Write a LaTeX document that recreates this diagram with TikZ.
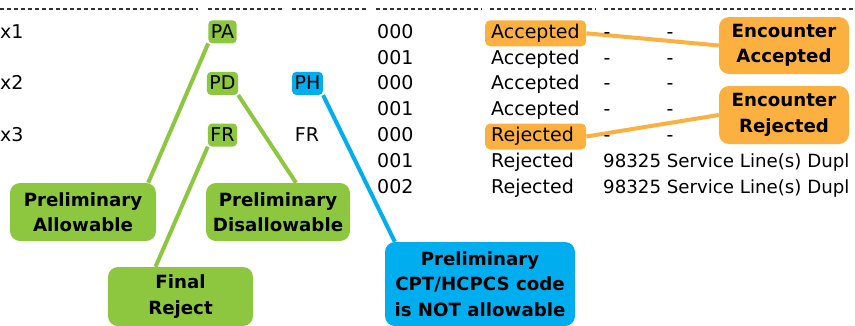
\documentclass[tikz,border=0pt]{standalone}
\usepackage{fontspec}
\setmainfont{DejaVu Sans}
\usetikzlibrary{calc,backgrounds}
\definecolor{cgreen}{HTML}{8DC63F}
\definecolor{cblue}{HTML}{00AEEF}
\definecolor{corange}{HTML}{FBB040}
\definecolor{cline}{HTML}{333333}
\begin{document}
\begin{tikzpicture}[x=1pt,y=-1pt,
  txt/.style={inner sep=0pt, font=\fontsize{19}{22}\selectfont},
  cell/.style={txt, anchor=base west},
  msgcell/.style={anchor=base west, inner sep=0pt, font=\fontsize{18.2}{22}\selectfont},
  dashcell/.style={txt, anchor=base},
  tag/.style={anchor=base, font=\fontsize{19}{22}\selectfont, text height=15.5pt, text depth=2.5pt, inner xsep=2.5pt, inner ysep=2.5pt, rounded corners=4pt},
  status/.style={anchor=base west, font=\fontsize{19}{22}\selectfont, text width=89pt, align=left, inner xsep=6pt, inner ysep=2.5pt, text height=15.5pt, text depth=5.5pt, rounded corners=5pt},
  callout/.style={rounded corners=10pt, align=center, font=\bfseries\fontsize{18.2}{25.5}\selectfont, inner sep=0pt},
  link/.style={line width=4pt},
  rule/.style={draw=cline, line width=1.1pt, dash pattern=on 4pt off 3pt}
]
\useasboundingbox (0,0) rectangle (855,325);
\clip (0,0) rectangle (855,325);

% top dashed rule
\draw[rule] (0,9) -- (198,9);
\draw[rule] (208,9) -- (282,9);
\draw[rule] (292,9) -- (366,9);
\draw[rule] (376,9) -- (482,9);
\draw[rule] (490,9) -- (596,9);
\draw[rule] (604,9) -- (860,9);

% first column
\node[cell] (x1) at (0,38.3) {x1};
\node[cell] (x2) at (0,89.9) {x2};
\node[cell] (x3) at (0,141.5) {x3};

% status tags
\node[tag, fill=cgreen] (pa) at (222.5,38.3) {PA};
\node[tag, fill=cgreen] (pd) at (222.5,89.9) {PD};
\node[tag, fill=cgreen] (fr) at (222.5,141.5) {FR};
\node[tag, fill=cblue] (ph) at (307.5,89.9) {PH};
\node[dashcell] (fr2) at (307,141.5) {FR};

% line numbers
\node[cell] (n1) at (377,38.3) {000};
\node[cell] (n2) at (377,64.1) {001};
\node[cell] (n3) at (377,89.9) {000};
\node[cell] (n4) at (377,115.7) {001};
\node[cell] (n5) at (377,141.5) {000};
\node[cell] (n6) at (377,167.3) {001};
\node[cell] (n7) at (377,193.1) {002};

% statuses
\node[status, fill=corange] (acc) at (485,38.3) {Accepted};
\node[status] (s2) at (485,64.1) {Accepted};
\node[status] (s3) at (485,89.9) {Accepted};
\node[status] (s4) at (485,115.7) {Accepted};
\node[status, fill=corange] (rej) at (485,141.5) {Rejected};
\node[status] (s6) at (485,167.3) {Rejected};
\node[status] (s7) at (485,193.1) {Rejected};

% dash columns
\node[dashcell] (d1a) at (607,38.3) {-};
\node[dashcell] (d1b) at (670,38.3) {-};
\node[dashcell] (d2a) at (607,64.1) {-};
\node[dashcell] (d2b) at (670,64.1) {-};
\node[dashcell] (d3a) at (607,89.9) {-};
\node[dashcell] (d3b) at (670,89.9) {-};
\node[dashcell] (d4a) at (607,115.7) {-};
\node[dashcell] (d4b) at (670,115.7) {-};
\node[dashcell] (d5a) at (607,141.5) {-};
\node[dashcell] (d5b) at (670,141.5) {-};
\node[msgcell] (m6) at (603,167.3) {98325 Service Line(s) Dupl};
\node[msgcell] (m7) at (603,193.1) {98325 Service Line(s) Dupl};

% callouts
\node[callout, fill=corange, minimum width=130pt, minimum height=57pt] (ea) at (784,45.5) {Encounter\\Accepted};
\node[callout, fill=corange, minimum width=130pt, minimum height=58pt] (er) at (784,115) {Encounter\\Rejected};
\node[callout, fill=cgreen, minimum width=146pt, minimum height=58pt] (pal) at (83,212) {Preliminary\\Allowable};
\node[callout, fill=cgreen, minimum width=144pt, minimum height=58pt] (pdis) at (278,212) {Preliminary\\Disallowable};
\node[callout, fill=cgreen, minimum width=145pt, minimum height=59pt] (fre) at (180.5,296.5) {Final\\Reject};
\node[callout, fill=cblue, minimum width=190pt, minimum height=84pt] (phc) at (480,284) {Preliminary\\CPT/HCPCS code\\is NOT allowable};

% connectors
\begin{scope}[on background layer]
\draw[link, cgreen] (pa.south west) -- ($(pal.north east)+(-8,0)$);
\draw[link, cgreen] (pd.south east) -- ($(pdis.north)+(18,0)$);
\draw[link, cgreen] (fr.south west) -- ($(fre.north)+(-25,0)$);
\draw[link, cblue] (ph.south east) -- ($(phc.north west)+(10,0)$);
\draw[link, corange] (acc.east) -- (ea.west);
\draw[link, corange] (rej.east) -- (er.west);
\end{scope}
\end{tikzpicture}
\end{document}
